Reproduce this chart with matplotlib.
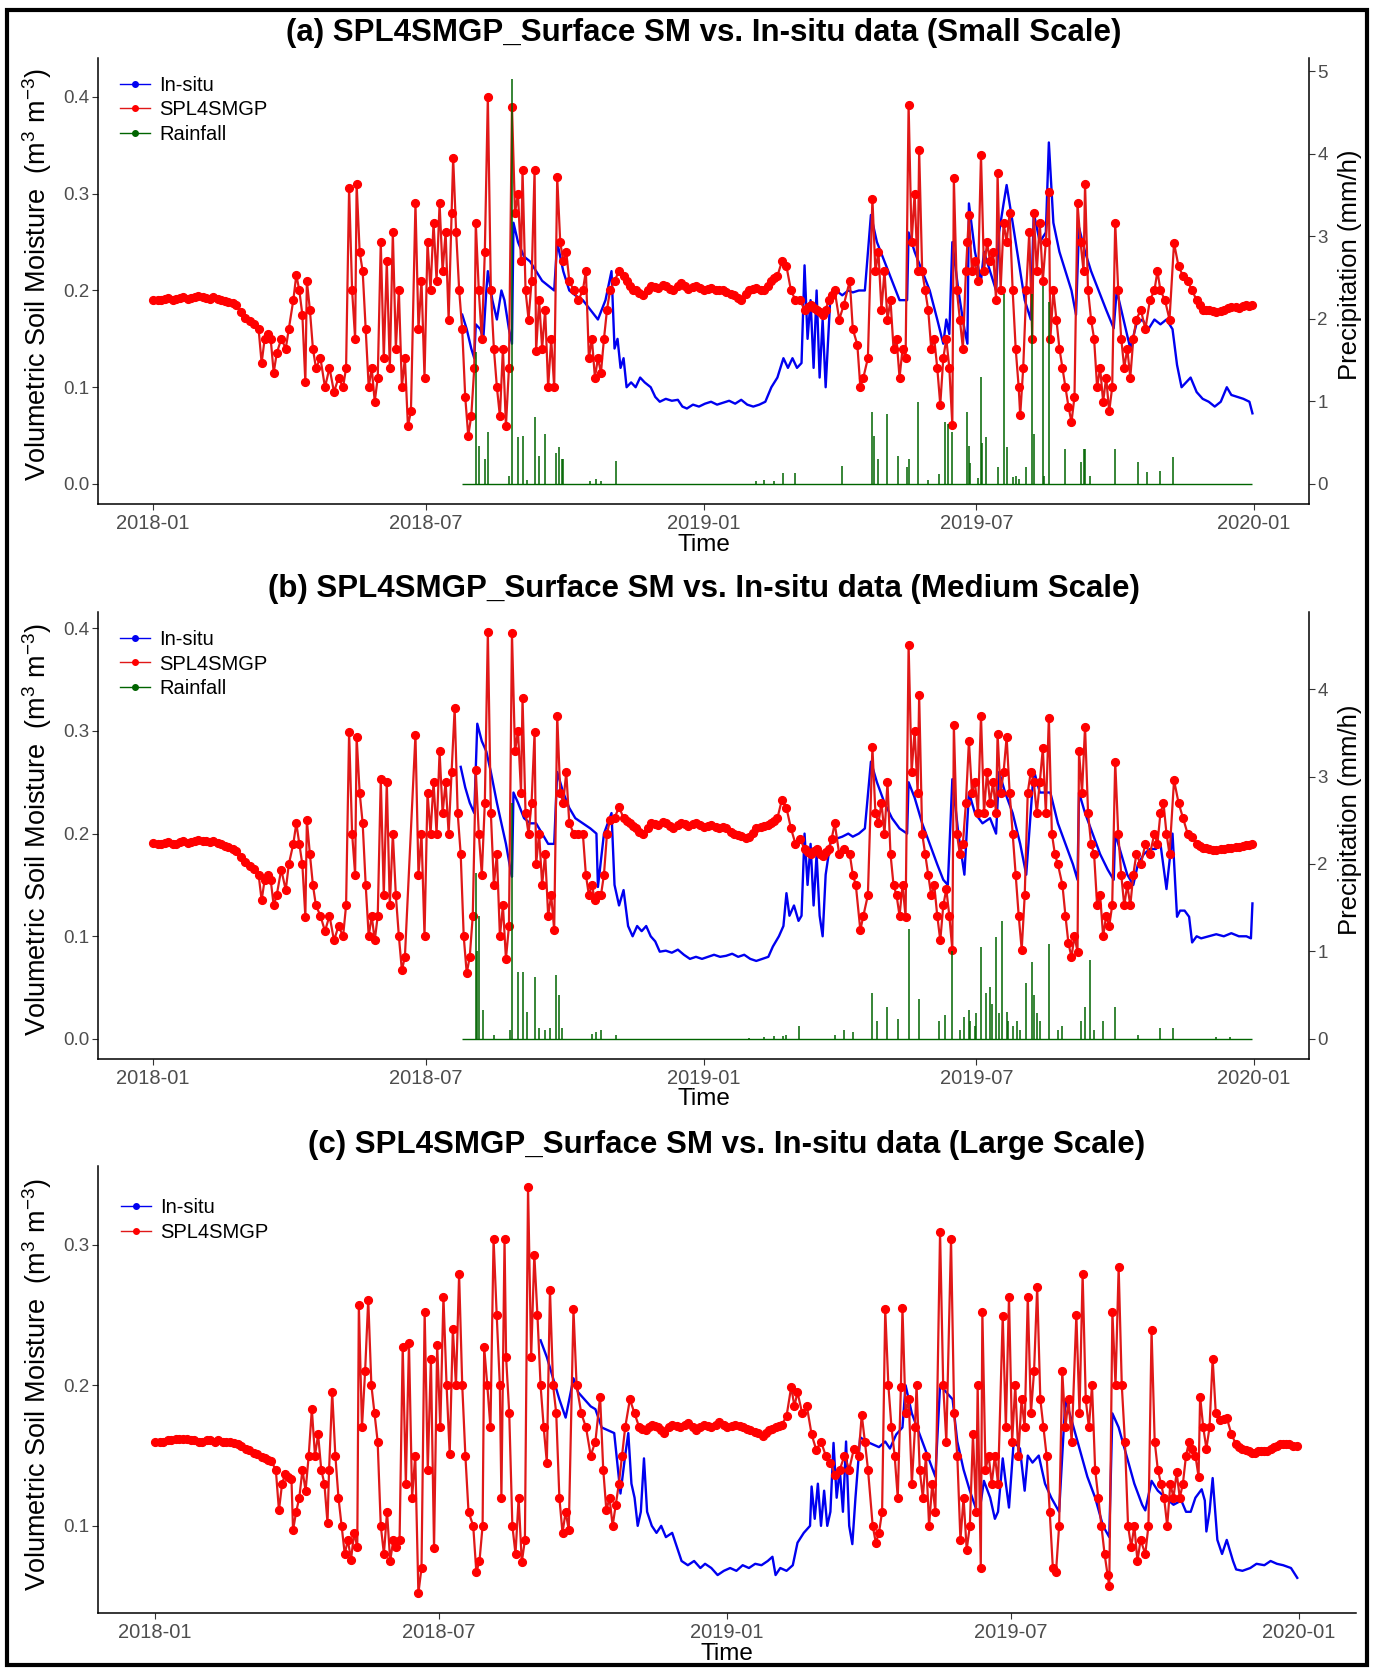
import numpy as np
import matplotlib
matplotlib.use("Agg")
import matplotlib.pyplot as plt
import matplotlib.dates as mdates
from matplotlib.lines import Line2D
from matplotlib.patches import Rectangle

plt.rcParams['font.family'] = ['Liberation Sans', 'DejaVu Sans']
plt.rcParams['mathtext.fontset'] = 'custom'
plt.rcParams['mathtext.rm'] = 'Liberation Sans'
plt.rcParams['mathtext.it'] = 'Liberation Sans:italic'

# (day since 2018-01-01, value) pairs
# ---------------- panel (a) small scale ----------------
a_smap = [(0,0.19),(3,0.19),(5,0.19),(8,0.191),(10,0.192),(13,0.19),(15,0.191),(18,0.192),(20,0.193),(23,0.191),(25,0.192),
(28,0.193),(30,0.194),(33,0.193),(35,0.192),(38,0.191),(40,0.193),(43,0.191),(45,0.19),(48,0.189),
(50,0.188),(53,0.187),(55,0.185),(58,0.178),(61,0.172),(64,0.168),(67,0.165),(70,0.16),(72,0.125),(74,0.15),(76,0.155),(78,0.15),
(80,0.115),(82,0.135),(85,0.15),(88,0.14),(90,0.16),(93,0.19),(95,0.216),(97,0.2),(99,0.175),(101,0.105),(102,0.21),
(104,0.18),(106,0.14),(108,0.12),(111,0.13),(114,0.1),(117,0.12),(120,0.095),(123,0.11),(126,0.1),(128,0.12),(130,0.306),
(132,0.2),(134,0.15),(135,0.31),(137,0.24),(139,0.22),(141,0.16),(143,0.1),(145,0.12),(147,0.085),(149,0.11),(151,0.25),
(153,0.13),(155,0.23),(157,0.12),(159,0.26),(161,0.14),(163,0.2),(165,0.1),(167,0.13),(169,0.06),(171,0.075),(174,0.29),
(176,0.16),(178,0.21),(180,0.11),(182,0.25),(184,0.2),(186,0.27),(188,0.21),(190,0.29),(192,0.22),(194,0.26),(196,0.17),
(198,0.28),(199,0.337),(201,0.26),(203,0.2),(205,0.16),(207,0.09),(209,0.05),(211,0.07),(213,0.12),(214,0.27),(216,0.2),
(218,0.15),(220,0.24),(222,0.40),(224,0.2),(226,0.14),(228,0.1),(230,0.07),(232,0.14),(234,0.06),(236,0.12),(238,0.39),
(240,0.28),(242,0.3),(244,0.23),(245,0.325),(247,0.2),(249,0.17),(251,0.21),(253,0.325),(254,0.137),(256,0.19),(258,0.14),
(260,0.18),(262,0.1),(264,0.15),(266,0.1),(268,0.317),(270,0.25),(272,0.23),(274,0.24),(276,0.21),(279,0.2),(282,0.19),
(285,0.2),(287,0.22),(289,0.13),(291,0.15),(293,0.11),(295,0.13),(297,0.115),(299,0.15),(301,0.18),(303,0.2),(306,0.21),
(309,0.22),(312,0.215),(314,0.21),(316,0.205),(318,0.2),(320,0.2),(322,0.197),(325,0.195),(328,0.2),(330,0.205),(333,0.204),
(335,0.203),(338,0.206),(340,0.205),(343,0.202),(345,0.2),(348,0.205),(350,0.208),(353,0.205),
(355,0.202),(358,0.204),(360,0.205),(363,0.203),(365,0.2),(368,0.202),(370,0.203),(373,0.201),(375,0.2),(378,0.2),(380,0.198),
(383,0.196),(385,0.195),(388,0.192),(390,0.19),(393,0.196),(395,0.2),(398,0.202),(400,0.203),
(403,0.201),(405,0.2),(408,0.205),(410,0.21),(412,0.213),(414,0.215),(417,0.23),(420,0.225),(423,0.2),(426,0.19),(429,0.19),
(432,0.18),(434,0.183),(436,0.185),(438,0.182),(440,0.18),(442,0.178),
(444,0.175),(446,0.18),(448,0.19),(450,0.195),(452,0.2),(455,0.17),(458,0.185),(462,0.21),(464,0.16),(467,0.144),(469,0.1),(471,0.11),(474,0.13),
(477,0.295),(479,0.22),(481,0.24),(483,0.18),(485,0.22),(487,0.17),(489,0.19),(491,0.14),(493,0.15),(495,0.11),(497,0.14),
(499,0.13),(501,0.392),(503,0.25),(505,0.3),(507,0.22),(508,0.345),(510,0.22),(512,0.2),(514,0.18),(516,0.14),(518,0.15),
(520,0.12),(522,0.082),(524,0.13),(526,0.15),(528,0.12),(530,0.061),(531,0.316),(533,0.2),(535,0.17),(537,0.14),(539,0.22),
(540,0.25),(541,0.278),(543,0.22),(545,0.23),(547,0.21),(549,0.34),(551,0.22),(553,0.25),(555,0.23),(557,0.24),(559,0.19),
(560,0.321),(562,0.2),(564,0.27),(566,0.25),(568,0.28),(570,0.2),(572,0.14),(574,0.1),(575,0.071),(577,0.12),(579,0.2),
(581,0.26),(583,0.15),(584,0.28),(586,0.22),(588,0.27),(590,0.21),(592,0.25),(594,0.302),(595,0.15),(597,0.2),(599,0.17),
(601,0.14),(603,0.12),(605,0.1),(607,0.08),(609,0.064),(611,0.09),(613,0.29),(615,0.25),(617,0.22),(618,0.31),(620,0.2),
(622,0.17),(624,0.15),(626,0.1),(628,0.12),(630,0.085),(632,0.11),(634,0.075),(636,0.1),(638,0.27),(640,0.2),(642,0.15),
(644,0.12),(646,0.14),(648,0.11),(650,0.15),(652,0.17),(655,0.18),(658,0.16),(661,0.19),(664,0.2),(666,0.22),(668,0.2),
(671,0.19),(674,0.17),(677,0.249),(680,0.225),(683,0.215),(686,0.21),(689,0.2),(692,0.19),(694,0.185),(696,0.18),(698,0.18),
(700,0.18),(703,0.179),(705,0.178),(708,0.179),(710,0.18),(713,0.182),(715,0.183),(718,0.183),(720,0.182),(723,0.184),
(725,0.185),(727,0.184),(729,0.185)]

a_insitu = [(205,0.175),(208,0.16),(211,0.14),(213,0.13),(214,0.165),(217,0.16),(219,0.15),(221,0.2),(222,0.22),(225,0.19),
(228,0.17),(231,0.2),(233,0.19),(236,0.16),(238,0.145),(239,0.27),(242,0.25),(246,0.235),(250,0.23),(254,0.22),(258,0.21),
(262,0.205),(266,0.2),(268,0.25),(272,0.22),(276,0.2),(280,0.195),(285,0.19),(290,0.18),(295,0.17),(300,0.19),(304,0.22),
(306,0.14),(308,0.15),(310,0.12),(312,0.13),(314,0.1),(317,0.105),(320,0.1),(323,0.11),(326,0.105),(330,0.1),(333,0.09),
(336,0.085),(340,0.088),(344,0.086),(348,0.087),(351,0.08),(354,0.078),(358,0.082),(362,0.08),(366,0.083),(370,0.085),
(374,0.082),(378,0.084),(382,0.086),(386,0.083),(390,0.087),(394,0.082),(398,0.08),(402,0.082),(406,0.085),(410,0.1),
(414,0.11),(418,0.13),(421,0.12),(424,0.13),(427,0.12),(430,0.125),(432,0.226),(434,0.15),(436,0.19),(438,0.12),(440,0.2),
(442,0.11),(444,0.17),(446,0.1),(449,0.19),(453,0.2),(457,0.195),(461,0.2),(464,0.198),(468,0.2),(472,0.2),(476,0.278),
(480,0.25),(485,0.23),(490,0.21),(495,0.19),(500,0.19),(501,0.26),(505,0.24),(510,0.22),(515,0.2),(520,0.17),(524,0.145),
(526,0.17),(528,0.155),(530,0.25),(534,0.2),(538,0.16),(540,0.145),(541,0.29),(545,0.24),(549,0.21),(551,0.24),(555,0.22),
(559,0.2),(561,0.26),(564,0.29),(566,0.309),(570,0.27),(574,0.23),(578,0.19),(582,0.17),(584,0.28),(588,0.25),(592,0.26),
(594,0.353),(597,0.27),(601,0.24),(605,0.22),(609,0.2),(612,0.175),(614,0.265),(618,0.24),(622,0.22),(627,0.2),(632,0.18),
(637,0.161),(639,0.2),(642,0.18),(645,0.16),(648,0.14),(652,0.165),(656,0.17),(660,0.16),(664,0.17),(668,0.165),(672,0.17),
(676,0.16),(679,0.123),(682,0.1),(685,0.105),(688,0.11),(692,0.095),(696,0.088),(700,0.085),(704,0.08),(708,0.085),
(712,0.1),(715,0.092),(719,0.09),(723,0.088),(727,0.085),(729,0.073)]

a_rain = [(214,1.6),(216,0.46),(220,0.3),(222,0.63),(236,0.1),(238,4.9),(242,0.57),(245,0.58),(248,0.05),(253,0.81),
(256,0.34),(260,0.6),(267,0.38),(269,0.45),(271,0.3),(272,0.3),(290,0.03),(294,0.06),(297,0.04),(307,0.28),(400,0.03),
(405,0.05),(412,0.03),(418,0.13),(426,0.13),(457,0.22),(477,0.87),(478,0.58),(481,0.3),(487,0.85),(494,0.34),(500,0.2),
(501,0.3),(507,0.99),(514,0.05),(521,0.12),(525,0.75),(527,0.73),(530,0.63),(540,0.87),(541,0.46),(542,0.25),(547,0.07),
(549,1.3),(550,0.5),(552,0.57),(560,0.2),(564,2.3),(566,0.45),(570,0.08),(572,0.1),(574,0.06),(579,0.2),(583,2.3),
(584,0.6),(590,2.4),(591,0.1),(594,2.2),(605,0.42),(615,0.27),(617,0.42),(618,0.42),(621,0.1),(638,0.42),(653,0.27),
(659,0.14),(668,0.16),(676,0.33)]
a_rain_span = (205, 729)

# ---------------- panel (b) medium scale ----------------
b_smap = [(0,0.191),(3,0.19),(5,0.19),(8,0.191),(10,0.192),(13,0.19),(15,0.19),(18,0.192),(20,0.193),(23,0.191),(25,0.192),
(28,0.193),(30,0.194),(33,0.193),(35,0.193),(38,0.192),(40,0.193),(43,0.191),(45,0.19),(48,0.188),
(50,0.187),(53,0.185),(55,0.183),(58,0.177),(61,0.172),(64,0.168),(67,0.166),(70,0.16),(72,0.135),(74,0.155),(76,0.16),(78,0.155),
(80,0.13),(82,0.14),(85,0.165),(88,0.145),(90,0.17),(93,0.19),(95,0.21),(97,0.19),(99,0.17),(101,0.119),(102,0.213),
(104,0.18),(106,0.15),(108,0.13),(111,0.12),(114,0.105),(117,0.12),(120,0.096),(123,0.11),(126,0.1),(128,0.13),(130,0.299),
(132,0.2),(134,0.16),(135,0.294),(137,0.24),(139,0.21),(141,0.15),(143,0.1),(145,0.12),(147,0.096),(149,0.12),(151,0.253),
(153,0.14),(155,0.25),(157,0.13),(159,0.2),(161,0.14),(163,0.1),(165,0.067),(167,0.08),(174,0.296),(176,0.16),(178,0.2),
(180,0.1),(182,0.24),(184,0.2),(186,0.25),(188,0.2),(190,0.28),(192,0.22),(194,0.25),(196,0.2),(198,0.26),(200,0.322),
(202,0.22),(204,0.18),(206,0.1),(208,0.064),(210,0.08),(212,0.12),(214,0.262),(216,0.2),(218,0.16),(220,0.23),(222,0.396),
(224,0.22),(226,0.15),(228,0.18),(230,0.1),(232,0.13),(234,0.078),(236,0.11),(238,0.395),(240,0.28),(242,0.3),(244,0.24),
(245,0.332),(247,0.22),(249,0.2),(251,0.23),(253,0.299),(254,0.17),(256,0.2),(258,0.15),(260,0.18),(262,0.12),(264,0.14),
(266,0.106),(268,0.315),(270,0.24),(272,0.23),(274,0.26),(276,0.21),(279,0.2),(282,0.2),(285,0.2),(287,0.16),(289,0.14),
(291,0.15),(293,0.135),(295,0.14),(297,0.14),(299,0.16),(301,0.2),(303,0.213),(306,0.215),(309,0.226),(312,0.215),
(314,0.212),(316,0.21),(318,0.207),(320,0.205),(322,0.202),(325,0.2),(328,0.205),(330,0.21),(333,0.209),(335,0.208),
(338,0.211),(340,0.21),(343,0.207),(345,0.205),(348,0.208),(350,0.21),(353,0.209),(355,0.207),(358,0.209),(360,0.21),
(363,0.208),(365,0.206),(368,0.207),(370,0.208),(373,0.206),(375,0.205),(378,0.206),(380,0.205),(383,0.202),(385,0.2),
(388,0.199),(390,0.198),(393,0.196),(395,0.197),(398,0.201),(400,0.205),(403,0.206),(405,0.207),(408,0.208),(410,0.21),
(412,0.212),(414,0.215),(417,0.233),(420,0.225),(423,0.205),(426,0.19),(429,0.195),(432,0.185),(434,0.182),(436,0.18),
(438,0.183),(440,0.185),(442,0.18),(444,0.178),(446,0.182),
(448,0.185),(450,0.195),(452,0.21),(455,0.18),(458,0.185),(462,0.18),(464,0.16),(466,0.15),(469,0.106),(471,0.12),(474,0.14),
(477,0.284),(479,0.22),(481,0.21),(483,0.23),(485,0.2),(487,0.25),(489,0.18),(491,0.15),(493,0.14),(495,0.12),(497,0.15),
(499,0.119),(501,0.384),(503,0.26),(505,0.3),(507,0.24),(508,0.335),(510,0.2),(512,0.18),(514,0.16),(516,0.14),(518,0.15),
(520,0.12),(522,0.096),(524,0.13),(526,0.146),(528,0.12),(530,0.087),(531,0.306),(533,0.2),(535,0.18),(537,0.19),
(539,0.23),(541,0.29),(543,0.24),(545,0.25),(547,0.22),(549,0.315),(551,0.22),(553,0.26),(555,0.23),(557,0.25),(559,0.22),
(560,0.297),(562,0.24),(564,0.26),(566,0.294),(568,0.24),(570,0.2),(572,0.16),(574,0.12),(576,0.087),(578,0.14),(580,0.24),
(582,0.26),(584,0.25),(586,0.22),(588,0.25),(590,0.283),(592,0.22),(594,0.313),(596,0.2),(598,0.18),(600,0.17),(603,0.15),
(605,0.12),(607,0.093),(609,0.08),(611,0.1),(613,0.085),(614,0.28),(616,0.24),(618,0.304),(620,0.22),(622,0.19),(624,0.18),
(626,0.13),(628,0.14),(630,0.1),(632,0.12),(634,0.11),(636,0.13),(638,0.27),(640,0.2),(642,0.16),(644,0.13),(646,0.15),
(648,0.13),(650,0.16),(652,0.18),(655,0.17),(658,0.19),(661,0.18),(664,0.2),(666,0.19),(668,0.22),(670,0.23),(672,0.2),
(674,0.18),(677,0.252),(680,0.23),(683,0.215),(686,0.2),(689,0.197),(692,0.19),(694,0.188),(696,0.186),(698,0.186),
(700,0.185),(703,0.184),(705,0.184),(708,0.185),(710,0.185),(713,0.186),(715,0.186),(718,0.187),(720,0.187),(723,0.188),
(725,0.189),(727,0.189),(729,0.19)]

b_insitu = [(204,0.265),(207,0.245),(210,0.23),(213,0.22),(215,0.307),(218,0.29),(221,0.28),(224,0.26),(228,0.23),
(231,0.21),(234,0.19),(237,0.165),(238,0.158),(239,0.24),(242,0.23),(246,0.215),(250,0.21),(254,0.21),(258,0.2),(262,0.19),
(266,0.19),(268,0.26),(272,0.24),(276,0.225),(280,0.215),(285,0.21),(290,0.205),(294,0.2),(295,0.148),(299,0.2),(304,0.22),
(306,0.15),(309,0.13),(312,0.145),(315,0.11),(318,0.1),(321,0.11),(324,0.105),(327,0.11),(330,0.1),(333,0.095),(336,0.085),
(340,0.086),(344,0.084),(348,0.087),(352,0.082),(356,0.078),(360,0.08),(364,0.078),(368,0.08),(372,0.082),(376,0.08),
(380,0.081),(384,0.083),(388,0.08),(392,0.082),(396,0.078),(400,0.076),(404,0.078),(408,0.08),(411,0.09),(415,0.1),
(418,0.11),(420,0.142),(422,0.12),(425,0.13),(428,0.115),(430,0.12),(432,0.2),(434,0.15),(436,0.19),(438,0.13),(440,0.18),
(442,0.12),(444,0.1),(446,0.16),(449,0.19),(453,0.195),(457,0.197),(461,0.2),(464,0.197),(468,0.2),(472,0.205),(476,0.27),
(480,0.25),(485,0.23),(490,0.215),(495,0.205),(500,0.2),(501,0.25),(505,0.235),(510,0.21),(515,0.19),(520,0.17),
(524,0.155),(527,0.15),(530,0.253),(534,0.2),(538,0.16),(541,0.24),(545,0.22),(550,0.21),(555,0.215),(559,0.2),(561,0.26),
(565,0.24),(570,0.22),(575,0.19),(579,0.16),(584,0.262),(588,0.24),(592,0.24),(595,0.24),(600,0.21),(605,0.19),(610,0.17),
(613,0.155),(614,0.24),(618,0.22),(623,0.2),(628,0.18),(633,0.165),(637,0.155),(638,0.2),(642,0.18),(646,0.16),(650,0.15),
(653,0.17),(657,0.18),(661,0.185),(665,0.185),(668,0.19),(672,0.146),(676,0.2),(679,0.119),(681,0.125),(684,0.125),
(687,0.119),(689,0.094),(692,0.1),(695,0.098),(700,0.1),(705,0.102),(710,0.1),(715,0.103),(720,0.1),(725,0.1),
(728,0.098),(729,0.132)]

b_rain = [(214,1.9),(215,1.0),(216,1.4),(219,0.33),(226,0.05),(237,0.1),(238,2.7),(242,0.77),(245,0.77),(248,0.31),
(253,0.71),(256,0.12),(260,0.1),(263,0.13),(267,0.73),(269,0.5),(271,0.12),(291,0.06),(294,0.08),(297,0.1),(307,0.05),
(395,0.01),(405,0.02),(412,0.03),(418,0.03),(420,0.05),(428,0.15),(452,0.05),(458,0.1),(464,0.08),(477,0.53),(480,0.2),
(487,0.36),(494,0.23),(501,1.26),(508,0.46),(521,0.2),(525,0.27),(530,1.0),(535,0.1),(538,0.25),(541,0.33),(542,0.2),
(545,0.15),(546,0.3),(549,1.05),(552,0.53),(555,0.59),(556,0.4),(559,1.16),(561,0.3),(563,1.35),(566,0.31),(567,0.2),
(570,0.15),(573,0.2),(575,0.1),(579,0.64),(583,0.88),(584,0.5),(586,0.3),(588,0.2),(594,1.09),(600,0.1),(603,0.15),
(615,0.2),(618,0.36),(621,0.9),(624,0.1),(630,0.2),(638,0.36),(653,0.05),(668,0.12),(676,0.12),(705,0.02),(714,0.02)]
b_rain_span = (205, 729)

# ---------------- panel (c) large scale ----------------
c_smap = [(0,0.16),(3,0.16),(5,0.16),(8,0.161),(10,0.161),(13,0.162),(15,0.162),(18,0.162),(20,0.162),(23,0.161),(25,0.161),
(28,0.16),(30,0.16),(33,0.161),(35,0.161),(38,0.16),(40,0.161),(43,0.16),(45,0.16),(48,0.16),
(50,0.159),(53,0.158),(55,0.157),(58,0.155),(60,0.154),(63,0.152),(65,0.151),(68,0.149),(70,0.148),(72,0.147),(74,0.146),(77,0.14),(79,0.111),(81,0.13),(83,0.137),(85,0.135),
(87,0.133),(88,0.097),(90,0.11),(92,0.12),(94,0.14),(96,0.125),(98,0.15),(100,0.183),(102,0.15),(104,0.165),(106,0.14),
(108,0.13),(110,0.102),(111,0.14),(113,0.195),(115,0.15),(117,0.12),(119,0.1),(121,0.08),(123,0.09),(125,0.076),(127,0.095),
(129,0.085),(130,0.257),(132,0.17),(134,0.21),(136,0.261),(138,0.2),(140,0.18),(142,0.16),(144,0.1),(146,0.08),(148,0.11),
(150,0.075),(152,0.09),(154,0.085),(156,0.09),(158,0.227),(160,0.13),(162,0.23),(164,0.12),(166,0.15),(168,0.052),
(170,0.07),(172,0.252),(174,0.14),(176,0.219),(178,0.084),(180,0.229),(182,0.17),(184,0.263),(186,0.2),(188,0.151),
(190,0.24),(192,0.2),(194,0.279),(196,0.2),(198,0.15),(200,0.11),(203,0.1),(205,0.067),(207,0.075),(209,0.1),(210,0.227),
(212,0.2),(214,0.17),(216,0.304),(218,0.25),(220,0.2),(221,0.12),(223,0.304),(224,0.22),(226,0.18),(228,0.1),(230,0.08),
(232,0.12),(234,0.074),(236,0.09),(238,0.341),(240,0.22),(242,0.293),(244,0.25),(246,0.2),(248,0.17),(250,0.145),
(252,0.268),(254,0.2),(256,0.18),(258,0.12),(260,0.095),(262,0.11),(264,0.097),(267,0.254),(269,0.2),(272,0.18),(275,0.17),
(278,0.15),(281,0.16),(284,0.192),(286,0.14),(288,0.111),(290,0.12),(292,0.1),(294,0.115),(296,0.13),(298,0.15),(300,0.17),
(303,0.19),(306,0.18),(309,0.17),(311,0.169),(313,0.168),(315,0.17),(317,0.172),(319,0.171),(321,0.17),(323,0.168),
(325,0.166),(328,0.17),(330,0.172),(333,0.171),(335,0.17),(338,0.172),(340,0.173),(343,0.17),
(345,0.168),(348,0.17),(350,0.172),(353,0.171),(355,0.17),(358,0.172),(360,0.174),(363,0.172),(365,0.17),(368,0.171),
(370,0.172),(373,0.171),(375,0.17),(378,0.169),(380,0.168),(383,0.167),(385,0.166),(388,0.164),
(390,0.166),(392,0.168),(394,0.169),(396,0.17),(398,0.171),(400,0.172),(403,0.178),(406,0.199),(408,0.185),(410,0.195),(413,0.18),(416,0.185),(419,0.165),
(422,0.154),(425,0.16),(428,0.15),(431,0.145),(434,0.136),(437,0.14),(440,0.15),(443,0.14),(446,0.155),(449,0.15),
(451,0.179),(453,0.16),(455,0.14),(458,0.1),(460,0.088),(462,0.095),(464,0.11),(466,0.254),(468,0.2),(470,0.17),(472,0.15),
(474,0.12),(476,0.199),(477,0.255),(479,0.18),(481,0.19),(483,0.13),(485,0.17),(486,0.2),(488,0.14),(490,0.12),(492,0.15),
(494,0.1),(496,0.13),(498,0.11),(501,0.309),(503,0.2),(505,0.16),(508,0.304),(510,0.18),(512,0.15),(514,0.09),(516,0.12),
(518,0.083),(520,0.1),(522,0.165),(524,0.11),(525,0.2),(527,0.07),(528,0.252),(530,0.14),(532,0.15),(534,0.13),(536,0.15),
(538,0.13),(541,0.249),(543,0.17),(545,0.263),(547,0.16),(549,0.2),(551,0.15),(553,0.19),(555,0.17),(557,0.263),(559,0.18),
(561,0.21),(563,0.27),(565,0.19),(567,0.17),(569,0.15),(571,0.11),(573,0.07),(575,0.067),(577,0.1),(579,0.21),(581,0.17),
(583,0.19),(585,0.16),(588,0.25),(590,0.18),(592,0.279),(594,0.19),(596,0.17),(598,0.2),(600,0.14),(602,0.12),(604,0.1),
(606,0.08),(608,0.065),(609,0.057),(611,0.252),(613,0.2),(615,0.284),(617,0.2),(619,0.16),(621,0.1),(623,0.085),(625,0.1),
(627,0.075),(629,0.09),(632,0.08),(634,0.1),(636,0.239),(638,0.16),(640,0.14),(642,0.13),(644,0.12),(646,0.1),(648,0.13),
(650,0.12),(652,0.138),(654,0.12),(656,0.13),(658,0.15),(660,0.16),(662,0.155),(664,0.15),(666,0.135),(667,0.192),
(669,0.17),(671,0.155),(673,0.17),(675,0.219),(677,0.18),(680,0.175),(682,0.176),(684,0.177),(687,0.165),(690,0.158),
(692,0.156),(694,0.155),(696,0.154),(698,0.153),(700,0.152),(702,0.152),(704,0.153),(706,0.153),(708,0.153),(710,0.153),
(712,0.155),(714,0.156),(716,0.157),(718,0.158),(720,0.158),(722,0.158),(724,0.158),(726,0.157),(729,0.157)]

c_insitu = [(246,0.232),(250,0.22),(254,0.205),(258,0.19),(262,0.177),(267,0.205),(270,0.195),(274,0.19),(278,0.185),
(281,0.183),(285,0.17),(289,0.168),(293,0.166),(297,0.123),(300,0.15),(302,0.166),(304,0.13),(306,0.12),(308,0.1),
(310,0.11),(312,0.148),(314,0.11),(317,0.1),(320,0.095),(323,0.1),(326,0.092),(330,0.095),(333,0.085),(336,0.075),
(340,0.072),(344,0.075),(348,0.07),(351,0.073),(355,0.07),(359,0.065),(363,0.068),(367,0.07),(371,0.068),(375,0.072),
(379,0.07),(383,0.073),(387,0.072),(391,0.075),(394,0.078),(396,0.065),(399,0.07),(403,0.068),(407,0.072),(410,0.088),
(414,0.095),(418,0.1),(419,0.128),(421,0.105),(423,0.13),(425,0.1),(427,0.125),(429,0.1),(431,0.11),(433,0.159),(435,0.12),
(437,0.14),(439,0.11),(441,0.16),(443,0.1),(445,0.087),(447,0.12),(450,0.163),(454,0.16),(458,0.158),(462,0.156),(466,0.16),
(469,0.155),(473,0.165),(477,0.17),(479,0.2),(483,0.18),(488,0.165),(493,0.15),(498,0.135),(501,0.2),(505,0.195),(509,0.19),
(512,0.16),(516,0.14),(520,0.125),(524,0.112),(526,0.109),(529,0.132),(533,0.12),(536,0.105),(538,0.11),(541,0.148),
(543,0.13),(545,0.113),(548,0.16),(552,0.155),(555,0.125),(557,0.15),(560,0.145),(564,0.15),(568,0.13),(572,0.12),
(577,0.11),(581,0.19),(585,0.175),(590,0.155),(595,0.135),(600,0.12),(605,0.1),(609,0.092),(611,0.18),(615,0.17),(620,0.15),
(625,0.13),(630,0.115),(632,0.111),(636,0.132),(640,0.125),(645,0.12),(650,0.115),(655,0.118),(658,0.11),(661,0.11),
(664,0.12),(668,0.126),(670,0.118),(671,0.096),(673,0.11),(675,0.134),(678,0.09),(681,0.08),(684,0.09),(688,0.075),
(690,0.069),(694,0.068),(699,0.07),(703,0.073),(708,0.072),(712,0.075),(716,0.073),(720,0.072),(725,0.07),(729,0.063)]

titles = ["(a) SPL4SMGP_Surface SM vs. In-situ data (Small Scale)",
          "(b) SPL4SMGP_Surface SM vs. In-situ data (Medium Scale)",
          "(c) SPL4SMGP_Surface SM vs. In-situ data (Large Scale)"]

START = np.datetime64('2018-01-01T00')


def to_dates(days):
    return START + (np.asarray(days, dtype=float) * 24).astype('timedelta64[h]')


W, H = 1375, 1670
fig = plt.figure(figsize=(W / 100, H / 100), dpi=100)


def add_axes_px(left, top, right, bottom):
    return fig.add_axes([left / W, 1 - bottom / H, (right - left) / W, (bottom - top) / H])


BLUE = '#0000F0'
RED = '#FF0000'
REDLINE = '#E01818'
GREEN = '#006400'
TICKCOL = '#4D4D4D'


def draw_sm(ax, smap, insitu, ylim):
    d, v = zip(*insitu)
    ax.plot(to_dates(d), v, color=BLUE, lw=1.7, zorder=2)
    d, v = zip(*smap)
    ax.plot(to_dates(d), v, color=REDLINE, lw=1.6, marker='o', ms=5.6,
            mfc=RED, mec=RED, zorder=3)
    ax.set_xlim(to_dates([-36.5])[0], to_dates([766.5])[0])
    ax.set_ylim(*ylim)
    ax.xaxis.set_major_locator(mdates.MonthLocator(bymonth=[1, 7]))
    ax.xaxis.set_major_formatter(mdates.DateFormatter('%Y-%m'))
    ax.spines['top'].set_visible(False)
    ax.spines['right'].set_visible(False)
    for s in ('left', 'bottom'):
        ax.spines[s].set_linewidth(1.1)
    ax.tick_params(axis='both', length=4, width=0.8, color='#333333', labelcolor=TICKCOL)
    ax.tick_params(axis='x', labelsize=14.5, pad=3)
    ax.tick_params(axis='y', labelsize=13.5, pad=2)


def draw_rain(ax, rain, span, ylim, yticks):
    ax2 = ax.twinx()
    d, v = zip(*rain)
    ax2.hlines(0, to_dates([span[0]])[0], to_dates([span[1]])[0], color=GREEN, lw=1.0, zorder=4)
    ax2.vlines(to_dates(d), 0, v, color=GREEN, lw=1.1, zorder=4)
    ax2.set_ylim(*ylim)
    ax2.set_yticks(yticks)
    ax2.set_yticklabels([str(t) for t in yticks])
    for s in ('top', 'left', 'bottom'):
        ax2.spines[s].set_visible(False)
    ax2.spines['right'].set_linewidth(1.1)
    ax2.tick_params(axis='y', length=4, width=0.8, color='#333333', labelcolor=TICKCOL,
                    labelsize=13.5, pad=2)
    return ax2


def legend(ax, with_rain, anchor):
    handles = [Line2D([], [], color=BLUE, marker='o', ms=4, lw=1.0),
               Line2D([], [], color=REDLINE, marker='o', ms=4, mfc=RED, mec=RED, lw=1.0)]
    labels = ['In-situ', 'SPL4SMGP']
    if with_rain:
        handles.append(Line2D([], [], color=GREEN, marker='o', ms=4, lw=1.0))
        labels.append('Rainfall')
    ax.legend(handles, labels, loc='upper left', bbox_to_anchor=anchor, frameon=False,
              fontsize=14.5, handlelength=1.5, handletextpad=0.45, labelspacing=0.28,
              borderaxespad=0, borderpad=0)


# panel (a)
ax_a = add_axes_px(98, 58, 1309, 504)
draw_sm(ax_a, a_smap, a_insitu, (-0.0207, 0.4403))
ax_a.set_yticks([0.0, 0.1, 0.2, 0.3, 0.4])
ax_a.set_yticklabels(['0.0', '0.1', '0.2', '0.3', '0.4'])
draw_rain(ax_a, a_rain, a_rain_span, (-0.0207 / 0.08537, 0.4403 / 0.08537), [0, 1, 2, 3, 4, 5])
legend(ax_a, True, (0.018, 0.96))

# panel (b)
ax_b = add_axes_px(98, 612, 1309, 1059)
draw_sm(ax_b, b_smap, b_insitu, (-0.0195, 0.4158))
ax_b.set_yticks([0.0, 0.1, 0.2, 0.3, 0.4])
ax_b.set_yticklabels(['0.0', '0.1', '0.2', '0.3', '0.4'])
draw_rain(ax_b, b_rain, b_rain_span, (-0.0195 / 0.0852, 0.4158 / 0.0852), [0, 1, 2, 3, 4])
legend(ax_b, True, (0.018, 0.96))

# panel (c)
ax_c = add_axes_px(98, 1166, 1356, 1613)
draw_sm(ax_c, c_smap, c_insitu, (0.038, 0.356))
ax_c.set_yticks([0.1, 0.2, 0.3])
ax_c.set_yticklabels(['0.1', '0.2', '0.3'])
legend(ax_c, False, (0.018, 0.928))

# titles and axis labels
title_y = [33, 589, 1145]
time_y = [545, 1099, 1654]
centres_x = [703.5, 703.5, 727]
ycentres = [275, 830, 1385]
for i in range(3):
    fig.text(centres_x[i] / W, 1 - title_y[i] / H, titles[i], ha='center', va='center',
             fontsize=22.5, fontweight='bold')
    fig.text(centres_x[i] / W, 1 - time_y[i] / H, 'Time', ha='center', va='center', fontsize=17.5)
    fig.text(37 / W, 1 - ycentres[i] / H, r'Volumetric Soil Moisture  (m$^{3}$ m$^{-3}$)',
             rotation=90, ha='center', va='center', fontsize=19.5)
for i in range(2):
    fig.text(1350 / W, 1 - (ycentres[i] - 10) / H, 'Precipitation (mm/h)', rotation=90,
             ha='center', va='center', fontsize=18.5)

fig.add_artist(Rectangle((7 / W, 5 / H), (1367 - 7) / W, (1660 - 5) / H, transform=fig.transFigure,
                         fill=False, lw=3, ec='black'))

fig.savefig('out.png', dpi=100)
